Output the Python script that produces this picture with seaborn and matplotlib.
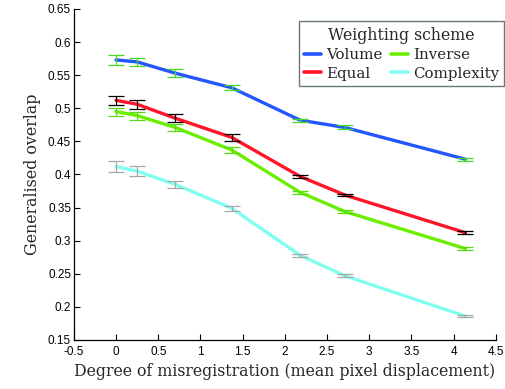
import numpy as np
import pandas as pd
import matplotlib
matplotlib.use("Agg")
import matplotlib.pyplot as plt
import seaborn as sns
from matplotlib.lines import Line2D

# Data
displacement = [0.0, 0.25, 0.70, 1.37, 2.18, 2.71, 4.14]
volume = [0.573, 0.570, 0.553, 0.531, 0.482, 0.471, 0.423]
equal = [0.512, 0.506, 0.485, 0.456, 0.397, 0.369, 0.312]
inverse = [0.495, 0.489, 0.471, 0.437, 0.373, 0.344, 0.288]
complexity = [0.412, 0.405, 0.385, 0.349, 0.278, 0.247, 0.186]
err_volume = [0.007, 0.0065, 0.006, 0.004, 0.002, 0.003, 0.002]
err_equal = [0.007, 0.0065, 0.006, 0.005, 0.002, 0.002, 0.002]
err_inverse = [0.006, 0.006, 0.005, 0.004, 0.002, 0.002, 0.002]
err_complexity = [0.008, 0.008, 0.005, 0.004, 0.002, 0.002, 0.001]
series_names = ["Volume", "Equal", "Inverse", "Complexity"]
xticks = [-0.5, 0, 0.5, 1, 1.5, 2, 2.5, 3, 3.5, 4, 4.5]
yticks = [0.15, 0.2, 0.25, 0.3, 0.35, 0.4, 0.45, 0.5, 0.55, 0.6, 0.65]

line_colors = {"Volume": "#2456ff", "Equal": "#ff1428", "Inverse": "#6cee00", "Complexity": "#80fff0"}
err_colors = {"Volume": "#44dd22", "Equal": "#000000", "Inverse": "#55dd11", "Complexity": "#a8a8a8"}

vals = {"Volume": volume, "Equal": equal, "Inverse": inverse, "Complexity": complexity}
errs = {"Volume": err_volume, "Equal": err_equal, "Inverse": err_inverse, "Complexity": err_complexity}

rows = []
for name in series_names:
    for x, y, e in zip(displacement, vals[name], errs[name]):
        rows.append({"x": x, "y": y, "err": e, "scheme": name})
df = pd.DataFrame(rows)

sns.set_style("white")
plt.rcParams["font.family"] = ["DejaVu Sans"]

fig = plt.figure(figsize=(5.06, 3.89), dpi=100)
ax = fig.add_axes([0.146, 0.126, 0.834, 0.851])

sns.lineplot(data=df, x="x", y="y", hue="scheme", hue_order=series_names,
             palette=line_colors, linewidth=2.4, ax=ax, legend=False, zorder=2)

for name in series_names:
    sub = df[df["scheme"] == name]
    ax.errorbar(sub["x"], sub["y"], yerr=sub["err"], fmt="none",
                ecolor=err_colors[name], elinewidth=0.9, capsize=6, capthick=0.9, zorder=3)

ax.set_xlim(-0.5, 4.5)
ax.set_ylim(0.15, 0.65)
ax.set_xticks(xticks)
ax.set_yticks(yticks)
ax.set_xticklabels([f"{t:g}" for t in xticks], family="Liberation Sans", fontsize=8.5)
ax.set_yticklabels([f"{t:g}" for t in yticks], family="Liberation Sans", fontsize=8.5)
ax.tick_params(direction="in", length=4, width=0.8, bottom=True, left=True, pad=2, colors="black")
ax.tick_params(axis="x", pad=4)
for s in ["top", "right"]:
    ax.spines[s].set_visible(False)
for s in ["left", "bottom"]:
    ax.spines[s].set_color("black")
    ax.spines[s].set_linewidth(0.9)

ax.set_xlabel("Degree of misregistration (mean pixel displacement)", family="DejaVu Serif", fontsize=11.3, labelpad=4)
ax.set_ylabel("Generalised overlap", family="DejaVu Serif", fontsize=11.4, labelpad=5)

handles = [Line2D([0], [0], color=line_colors[n], lw=2.6) for n in series_names]
leg = fig.legend(handles, series_names, ncol=2,
                 title="Weighting scheme", loc="upper right", bbox_to_anchor=(0.997, 0.945),
                 prop={"family": "DejaVu Serif", "size": 10.8},
                 title_fontproperties={"family": "DejaVu Serif", "size": 11.3},
                 frameon=True, fancybox=False, edgecolor="#445555", handlelength=1.1, handletextpad=0.35,
                 columnspacing=0.6, labelspacing=0.3, borderpad=0.35, borderaxespad=0)
leg.get_frame().set_linewidth(1.0)

fig.savefig("out.png", dpi=100)
